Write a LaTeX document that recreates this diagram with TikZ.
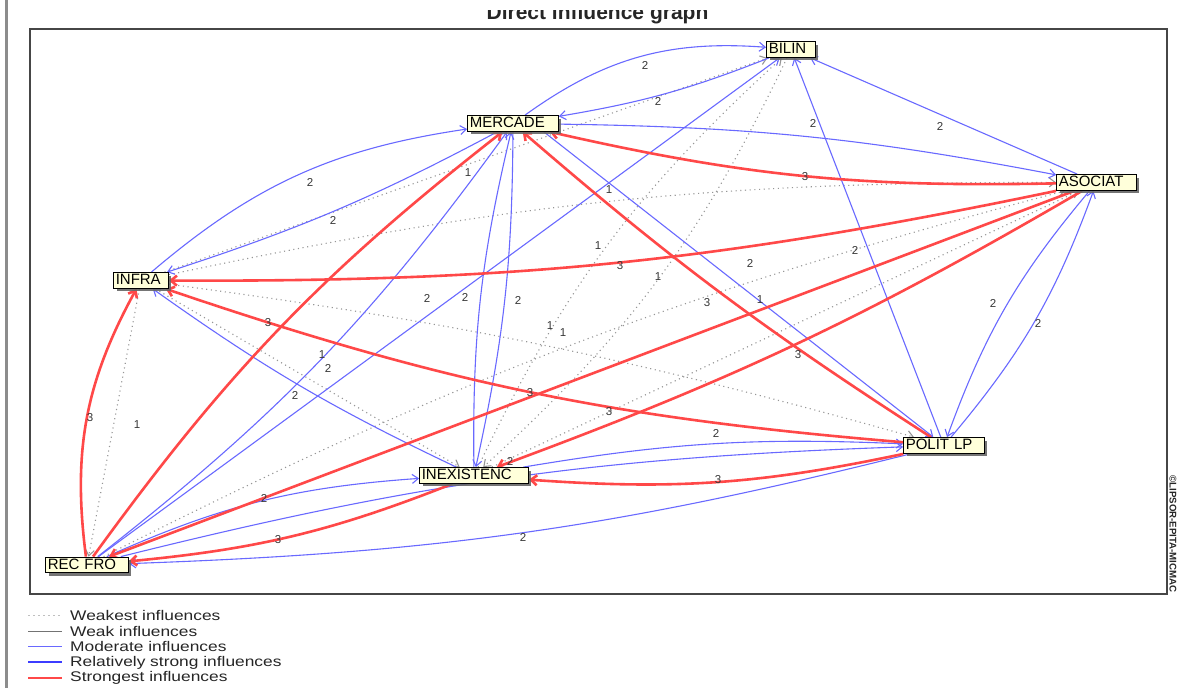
\documentclass[tikz,border=0pt]{standalone}
\usepackage{fontspec}
\setmainfont{Liberation Sans}
\usepackage{graphicx}
\usetikzlibrary{arrows.meta,shadows,backgrounds}
\definecolor{cream}{RGB}{255,255,218}
\definecolor{modblue}{RGB}{105,105,255}
\definecolor{relblue}{RGB}{60,60,255}
\definecolor{strred}{RGB}{255,72,72}
\definecolor{dotgray}{RGB}{150,150,150}
\definecolor{numgray}{RGB}{55,55,55}
\definecolor{framegray}{RGB}{70,70,70}
\tikzset{
  var/.style={draw=black, line width=1.3pt, fill=cream, inner xsep=2pt, inner ysep=1pt,
    text height=10.8pt, text depth=2.7pt, align=left, font=\fontsize{15}{15}\selectfont,
    drop shadow={shadow xshift=3pt, shadow yshift=-3pt, fill=black!60, opacity=0.9}},
  weakest/.style={dotgray, line width=1.1pt, dash pattern=on 1.1pt off 3.6pt,
    -{Straight Barb[length=6pt,width=9pt]}},
  moderate/.style={modblue, line width=1.1pt, -{Straight Barb[length=6pt,width=9pt]}},
  strongest/.style={strred, line width=2.6pt, -{Straight Barb[length=6pt,width=10pt]}},
  num/.style={text=numgray, font=\fontsize{11.5}{11.5}\selectfont, inner sep=0pt},
  legtext/.style={text=black!85, font=\fontsize{14}{14}\selectfont, inner sep=0pt, anchor=west},
  legweakest/.style={black!25, line width=1pt, dash pattern=on 2pt off 3pt},
  legweak/.style={black!55, line width=1pt},
  legmod/.style={modblue, line width=1pt},
  legrel/.style={relblue, line width=2pt},
  legstr/.style={strred, line width=2.5pt},
}
\begin{document}
\begin{tikzpicture}[x=1pt, y=1pt]
  \useasboundingbox (0,0) rectangle (1181,-688);
  \node[var, text width=44.5pt] (bil) at (791,-49.5) {BILIN};
  \node[var, text width=86.5pt] (mer) at (513,-123.5) {MERCADE};
  \node[var, text width=75.5pt] (aso) at (1096.5,-182.5) {ASOCIAT};
  \node[var, text width=50.5pt] (inf) at (141,-280.5) {INFRA};
  \node[var, text width=76.5pt] (pol) at (944,-445.5) {POLIT LP};
  \node[var, text width=104.5pt] (inx) at (474,-475.5) {INEXISTENC};
  \node[var, text width=78.5pt] (rec) at (87,-565) {REC FRO};

  \begin{scope}[on background layer]
   \fill[white] (0,0) rectangle (1181,-688);
   \draw[black!45, line width=3pt] (6,0) -- (6,-688);
   \draw[framegray, line width=1.4pt] (30,-29) rectangle (1167,-594);
   % weakest
   \draw[weakest] (inf) -- (rec);
   \draw[weakest] (inf) -- (bil);
   \draw[weakest] (inf) to[bend left=6] (aso);
   \draw[weakest] (inf) -- (inx);
   \draw[weakest] (inf) to[bend left=4] (pol);
   \draw[weakest] (inx) to[bend left=11] (bil);
   \draw[weakest] (bil) to[bend left=11] (inx);
   \draw[weakest] (rec) to[bend left=6] (aso);
   \draw[weakest] (inx) -- (aso);
   % moderate
   \draw[moderate] (mer) to[bend left=20] (bil);
   \draw[moderate] (bil) to[bend left=6] (mer);
   \draw[moderate] (rec) -- (bil);
   \draw[moderate] (rec) to[bend right=8] (mer);
   \draw[moderate] (inf) to[bend left=16] (mer);
   \draw[moderate] (mer) to[bend left=5] (inf);
   \draw[moderate] (mer) to[bend left=5] (aso);
   \draw[moderate] (aso) -- (bil);
   \draw[moderate] (pol) -- (bil);
   \draw[moderate] ([xshift=-15pt]mer.south east) -- (pol);
   \draw[moderate] (aso) to[bend right=10] (pol);
   \draw[moderate] (pol) to[bend right=10] (aso);
   \draw[moderate] (mer) to[bend left=6] (inx);
   \draw[moderate] (inx) to[bend left=7] (mer);
   \draw[moderate] (inx) to[bend left=5] (inf);
   \draw[moderate] (inx) to[bend left=6] (pol);
   \draw[moderate] (rec) to[bend left=6] (pol);
   \draw[moderate] (pol) to[bend left=6] (rec);
   \draw[moderate] (rec) to[bend left=10] (inx);
   % strongest
   \draw[strongest] (aso) to[bend left=7] (mer);
   \draw[strongest] (aso) to[bend left=6] (inf);
   \draw[strongest] (pol) to[bend left=7] (inf);
   \draw[strongest] (pol) to[bend left=4] (mer);
   \draw[strongest] (pol) to[bend left=8] (inx);
   \draw[strongest] (aso) to[bend left=5] (inx);
   \draw[strongest] (aso) -- (rec);
   \draw[strongest] (inx) to[bend left=8] (rec);
   \draw[strongest] (rec) to[bend left=18] (inf);
   \draw[strongest] (rec) to[bend left=8] (mer);
   % values
   \foreach \x/\y/\w [count=\i] in {645/65/2, 658/101/2, 940/126/2, 813/123/2, 468/173/1,
     310/182/2, 805/177/3, 609/190/1, 333/220/2, 598/246/1, 620/266/3, 658/277/1, 750/263/2,
     855/250/2, 427/298/2, 465/297/2, 518/300/2, 707/303/3, 760/300/1, 268/323/3, 550/326/1,
     563/333/1, 322/355/1, 328/368/2, 798/355/3, 993/303/2, 1038/323/2, 295/395/2, 530/393/3,
     609/412/3, 90/418/3, 137/425/1, 716/433/2, 718/480/3, 264/498/2, 278/540/3, 523/537/2,
     510/461/2}
     \node[num] (n\i) at (\x,-\y) {\w};
  \end{scope}

  \begin{scope}
   \clip (0,-10) rectangle (1181,-28);
   \node[font=\bfseries\fontsize{21}{21}\selectfont, text=black!85, anchor=base] (title) at (597.5,-19.5) {Direct influence graph};
  \end{scope}
  \node[rotate=-90, font=\bfseries\fontsize{9.7}{9.7}\selectfont, text=black!85, inner sep=0pt] (copy) at (1173,-534) {©LIPSOR-EPITA-MICMAC};

  \foreach \s/\t [count=\i] in {legweakest/Weakest influences, legweak/Weak influences,
     legmod/Moderate influences, legrel/Relatively strong influences, legstr/Strongest influences}
  {
   \draw[\s] (28,-600-15.6*\i) -- (62,-600-15.6*\i);
   \node[legtext] (leg\i) at (70,-600-15.6*\i) {\scalebox{1.24}[1]{\t}};
  }
\end{tikzpicture}
\end{document}
